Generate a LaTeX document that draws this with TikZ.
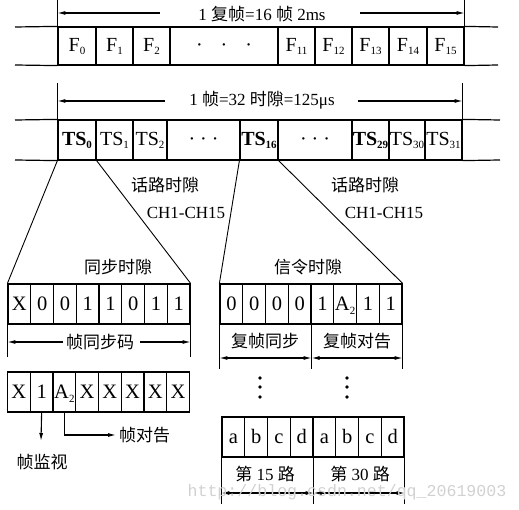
\documentclass[tikz,border=0pt]{standalone}
\usepackage{fontspec}
\setmainfont{Liberation Serif}
\setmonofont{Liberation Mono}
\newfontfamily\cjk{Noto Sans CJK SC}
\usetikzlibrary{arrows.meta}
\newcommand\lowidx[1]{\raisebox{-0.35ex}{\fontsize{11}{12}\selectfont #1}}
\tikzset{
  txt/.style={inner sep=0pt, font=\fontsize{17}{20}\selectfont},
  cell/.style={draw, line width=1.2pt, inner sep=0pt, text height=13.5pt, text depth=2pt, font=\fontsize{20}{22}\selectfont},
  bit/.style={draw, line width=1.2pt, inner sep=0pt, minimum width=22.75pt, minimum height=40pt, text height=14pt, text depth=0.5pt, font=\fontsize{20.5}{22}\selectfont},
  rule/.style={line width=1.2pt},
  fan/.style={line width=0.9pt},
  arr/.style={line width=1.1pt, -{Latex[length=8pt,width=4pt]}},
  darr/.style={line width=1.1pt, {Latex[length=8pt,width=4pt]}-{Latex[length=8pt,width=4pt]}},
  dot/.style={circle, fill, inner sep=1.3pt}
}
\begin{document}
\begin{tikzpicture}[x=1pt,y=-1pt]
\useasboundingbox (0,0) rectangle (519,510);

% ---------- row 1: multiframe ----------
\foreach \l/\r/\t/\n in {58/96/{F\lowidx{0}}/f0, 96/133/{F\lowidx{1}}/f1, 133/170/{F\lowidx{2}}/f2,
  170/278/{·\hspace{18pt}·\hspace{18pt}·}/fd, 278/315/{F\lowidx{11}}/f11, 315/352/{F\lowidx{12}}/f12,
  352/389/{F\lowidx{13}}/f13, 389/427/{F\lowidx{14}}/f14, 427/464/{F\lowidx{15}}/f15}
  \node[cell, minimum width={\r-\l}, minimum height=38pt] (\n) at ({(\l+\r)/2},46) {\t};
\coordinate (r1a) at (15,27); \coordinate (r1b) at (15,65);
\coordinate (r1c) at (498,27); \coordinate (r1d) at (498,65);
\draw[rule] (r1a) -- (f0.north west);
\draw[rule] (r1b) -- (f0.south west);
\draw[rule] (f15.north east) -- (r1c);
\draw[rule] (f15.south east) -- (r1d);
\draw[fan] (f0.north west) -- ++(0,-27);
\draw[fan] (f15.north east) -- ++(0,-27);
\node[txt] (l1) at (262,14) {1 {\cjk 复帧}=16 {\cjk 帧} 2ms};
\coordinate (l1a) at (160,13); \coordinate (l1b) at (360,13);
\draw[arr] (l1a) -- (l1a -| f0.west);
\draw[arr] (l1b) -- (l1b -| f15.east);

% ---------- row 2: frame ----------
\foreach \l/\r/\t/\n in {58/96/{\textbf{TS}\lowidx{\textbf{0}}}/ts0, 96/133/{TS\lowidx{1}}/ts1, 133/167/{TS\lowidx{2}}/ts2,
  167/240/{·\hspace{5pt}·\hspace{5pt}·}/tsd1, 240/278/{\textbf{TS}\lowidx{\textbf{16}}}/ts16, 278/352/{·\hspace{5pt}·\hspace{5pt}·}/tsd2,
  352/389/{\textbf{TS}\lowidx{\textbf{29}}}/ts29, 389/425/{TS\lowidx{30}}/ts30, 425/462/{TS\lowidx{31}}/ts31}
  \node[cell, minimum width={\r-\l}, minimum height=40pt] (\n) at ({(\l+\r)/2},140) {\t};
\coordinate (r2a) at (15,120); \coordinate (r2b) at (15,160);
\coordinate (r2c) at (500,120); \coordinate (r2d) at (500,160);
\draw[rule] (r2a) -- (ts0.north west);
\draw[rule] (r2b) -- (ts0.south west);
\draw[rule] (ts31.north east) -- (r2c);
\draw[rule] (ts31.south east) -- (r2d);
\draw[fan] (ts0.north west) -- ++(0,-36);
\draw[fan] (ts31.north east) -- ++(0,-36);
\node[txt] (l2) at (262,100) {1 {\cjk 帧}=32 {\cjk 时隙}=125μs};
\coordinate (l2a) at (165,101); \coordinate (l2b) at (358,101);
\draw[arr] (l2a) -- (l2a -| ts0.west);
\draw[arr] (l2b) -- (l2b -| ts31.east);

\node[txt] (v1) at (165,185) {\cjk 话路时隙};
\node[txt] (c1) at (186,213) {CH1-CH15};
\node[txt] (v2) at (365,185) {\cjk 话路时隙};
\node[txt] (c2) at (384,213) {CH1-CH15};

% ---------- sync slot ----------
\foreach \t [count=\i] in {X,0,0,1,1,0,1,1}
  \node[bit] (s\i) at ({8+22.75*(\i-0.5)},304) {\t};
\node[txt] (syn) at (118,267) {\cjk 同步时隙};
\draw[fan] (ts0.south west) -- (s1.north west);
\draw[fan] (ts0.south east) -- (s8.north east);
\draw[rule] (s1.south west) -- ++(0,32);
\draw[rule] (s8.south east) -- ++(0,32);
\node[txt] (fs) at (100,342) {\cjk 帧同步码};
\coordinate (fsa) at (63,342); \coordinate (fsb) at (140,342);
\draw[arr] (fsa) -- (fsa -| s1.west);
\draw[arr] (fsb) -- (fsb -| s8.east);

% ---------- second sync word ----------
\foreach \t [count=\i] in {X,1,A\lowidx{2},X,X,X,X,X}
  \node[bit] (q\i) at ({7.5+22.75*(\i-0.5)},392) {\t};
\coordinate (mona) at (41,441);
\draw[arr] (q2.south) -- (mona);
\node[txt] (mon) at (42,462) {\cjk 帧监视};
\node[txt, anchor=west] (rep) at (119,435) {\cjk 帧对告};
\draw[arr] (q3.south) |- ([xshift=-3pt]rep.west);

% ---------- signalling slot ----------
\foreach \t [count=\i] in {0,0,0,0,1,A\lowidx{2},1,1}
  \node[bit] (g\i) at ({220+22.75*(\i-0.5)},304) {\t};
\node[txt] (sig) at (308,267) {\cjk 信令时隙};
\draw[fan] (ts16.south west) -- (g1.north west);
\draw[fan] (ts16.south east) -- (g8.north east);
\draw[rule] (g1.south west) -- ++(0,44);
\draw[rule] (g4.south east) -- ++(0,44);
\draw[rule] (g8.south east) -- ++(0,44);
\node[txt] (mfs) at (265,341) {\cjk 复帧同步};
\node[txt] (mfa) at (357,341) {\cjk 复帧对告};
\coordinate (ym) at (0,358);
\draw[darr] (g1.south west |- ym) -- (g4.south east |- ym);
\draw[darr] (g4.south east |- ym) -- (g8.south east |- ym);

\foreach \x/\n in {260/a, 347/b} {
  \node[dot] (\n1) at (\x,378) {};
  \node[dot] (\n2) at (\x,387) {};
  \node[dot] (\n3) at (\x,397) {};
}

% ---------- abcd ----------
\foreach \t [count=\i] in {a,b,c,d,a,b,c,d}
  \node[bit] (h\i) at ({222+22.75*(\i-0.5)},437) {\t};
\draw[rule] (h1.south west) -- ++(0,46);
\draw[rule] (h4.south east) -- ++(0,46);
\draw[rule] (h8.south east) -- ++(0,46);
\node[txt] (p15) at (265,474) {{\cjk 第} 15 {\cjk 路}};
\node[txt] (p30) at (360,474) {{\cjk 第} 30 {\cjk 路}};
\coordinate (yb) at (0,493);
\draw[darr] (h1.south west |- yb) -- (h4.south east |- yb);
\draw[darr] (h4.south east |- yb) -- (h8.south east |- yb);

\node[inner sep=0pt, font=\fontsize{16.6}{17}\selectfont\ttfamily, text=black!18] (wm) at (347,492) {http://blog.csdn.net/qq\_20619003};
\end{tikzpicture}
\end{document}
